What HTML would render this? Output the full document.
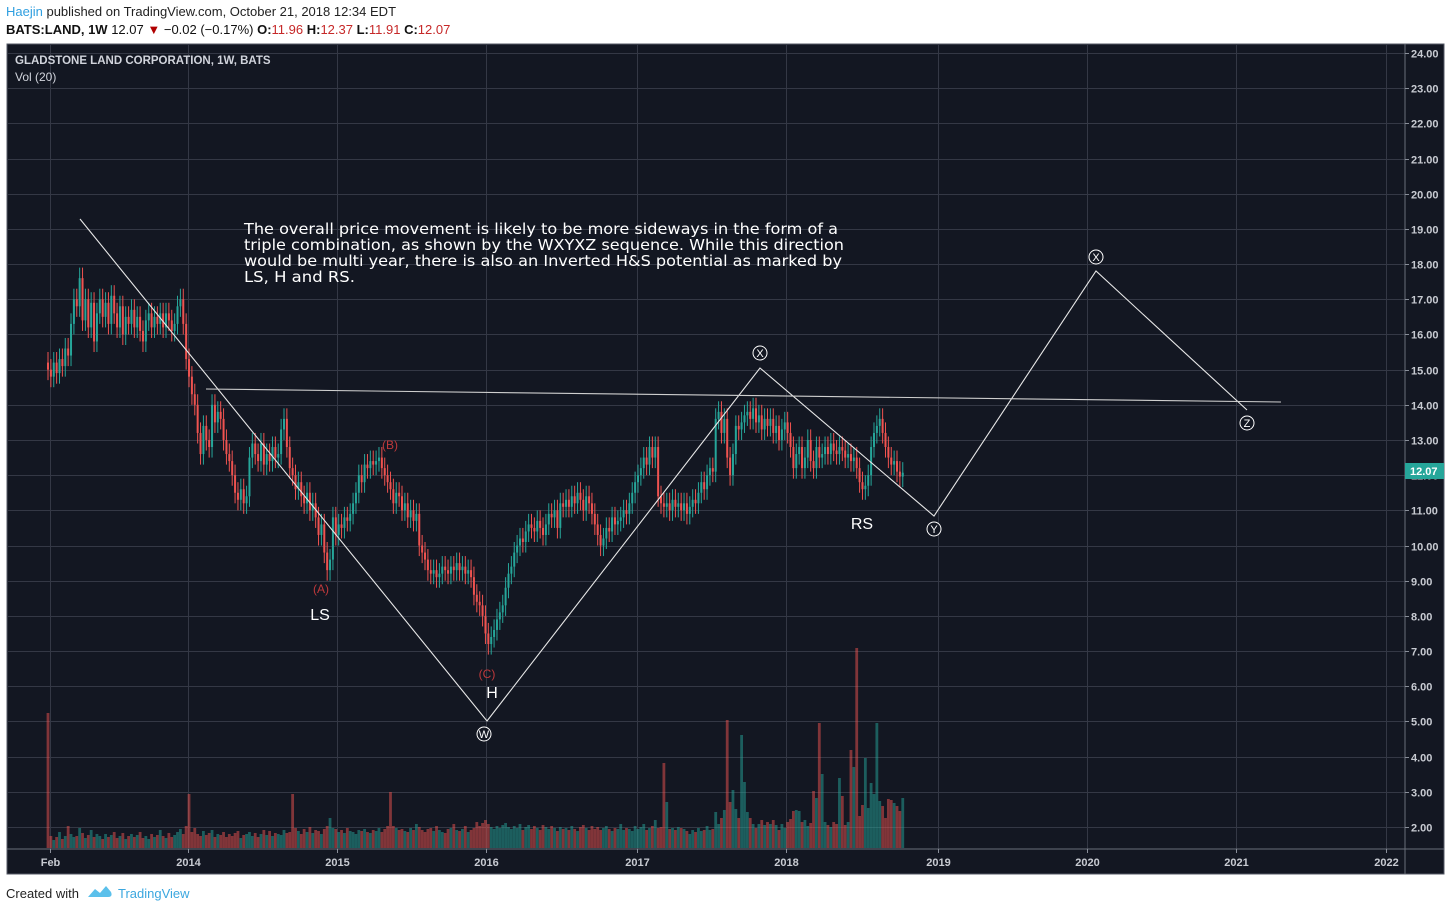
<!DOCTYPE html>
<html><head><meta charset="utf-8"><style>
html,body{margin:0;padding:0;background:#fff;}
svg{display:block;font-family:"Liberation Sans","DejaVu Sans",sans-serif;}
</style></head><body>
<svg id="chart" width="1451" height="911" viewBox="0 0 1451 911" xmlns="http://www.w3.org/2000/svg">
<rect x="0" y="0" width="1451" height="911" fill="#ffffff"/>
<g>
<text x="6" y="16" font-size="13"><tspan fill="#2f9fe0">Haejin</tspan><tspan fill="#222"> published on TradingView.com, October 21, 2018 12:34 EDT</tspan></text>
<text x="6" y="34" font-size="13" fill="#111"><tspan font-weight="bold">BATS:LAND, 1W</tspan><tspan> 12.07 </tspan><tspan fill="#b00000">▼</tspan><tspan> −0.02 (−0.17%) </tspan><tspan font-weight="bold">O:</tspan><tspan fill="#c62828">11.96 </tspan><tspan font-weight="bold">H:</tspan><tspan fill="#c62828">12.37 </tspan><tspan font-weight="bold">L:</tspan><tspan fill="#c62828">11.91 </tspan><tspan font-weight="bold">C:</tspan><tspan fill="#c62828">12.07</tspan></text>
</g>
<rect x="7" y="44" width="1437" height="830" fill="#131722" stroke="#555a66" stroke-width="1"/>
<g id="grid"></g>
<line x1="1405" y1="44" x2="1405" y2="874" stroke="#6a6f7a"/>
<line x1="7" y1="849" x2="1444" y2="849" stroke="#6a6f7a"/>
<g id="yaxis"></g>
<g id="xaxis"></g>
<g id="volume"></g>
<g id="candles"></g>
<text x="15" y="64" font-size="11.5" font-weight="bold" fill="#d1d4dc">GLADSTONE LAND CORPORATION, 1W, BATS</text>
<text x="15" y="81" font-size="12" fill="#d1d4dc">Vol (20)</text>
<g stroke="#e8e8e8" fill="none" stroke-width="1.1">
<polyline points="80,219 487,721 760,368 934,516 1096,271 1247,410"/>
<line x1="206" y1="389" x2="1281" y2="402" stroke="#cfcfcf"/>
</g>
<g font-size="11" fill="#fff" text-anchor="middle">
<g><circle cx="484" cy="734" r="7" fill="#131722" stroke="#fff"/><text x="484" y="738">W</text></g>
<g><circle cx="760" cy="353" r="7" fill="#131722" stroke="#fff"/><text x="760" y="357">X</text></g>
<g><circle cx="934" cy="529" r="7" fill="#131722" stroke="#fff"/><text x="934" y="533">Y</text></g>
<g><circle cx="1096" cy="257" r="7" fill="#131722" stroke="#fff"/><text x="1096" y="261">X</text></g>
<g><circle cx="1247" cy="423" r="7" fill="#131722" stroke="#fff"/><text x="1247" y="427">Z</text></g>
</g>
<g text-anchor="middle">
<text x="321" y="593" font-size="12" fill="#c0393b">(A)</text>
<text x="320" y="620" font-size="16" fill="#fff">LS</text>
<text x="390" y="449" font-size="12" fill="#c0393b">(B)</text>
<text x="487" y="678" font-size="12" fill="#c0393b">(C)</text>
<text x="492" y="698" font-size="16" fill="#fff">H</text>
<text x="862" y="529" font-size="16" fill="#fff">RS</text>
</g>
<g font-family="'DejaVu Sans',sans-serif" font-size="15.5" fill="#ffffff">
<text x="244" y="234" textLength="594" lengthAdjust="spacingAndGlyphs">The overall price movement is likely to be more sideways in the form of a</text>
<text x="244" y="250" textLength="600" lengthAdjust="spacingAndGlyphs">triple combination, as shown by the WXYXZ sequence. While this direction</text>
<text x="244" y="266" textLength="598" lengthAdjust="spacingAndGlyphs">would be multi year, there is also an Inverted H&amp;S potential as marked by</text>
<text x="244" y="282" textLength="111" lengthAdjust="spacingAndGlyphs">LS, H and RS.</text>
</g>
<g>
<rect x="1405" y="463" width="39" height="16" fill="#26a69a"/>
<text x="1410" y="475" font-size="11" font-weight="bold" fill="#fff">12.07</text>
</g>
<g>
<text x="6" y="898" font-size="13" fill="#222">Created with</text>
<g><path d="M88 897 L95 889 L100 893 L106 886 L111 892 Q113 897 108 897 Z" fill="#5bc0eb"/></g>
<text x="118" y="898" font-size="13" fill="#3ba7df">TradingView</text>
</g>
</svg>
<script>
const closes = [15.0,14.8,15.2,14.9,15.3,15.1,15.6,15.4,16.3,17.0,
16.8,17.6,16.4,17.0,16.2,16.9,15.8,16.6,17.0,16.5,
16.9,16.3,17.1,16.6,16.2,16.8,16.0,16.5,16.3,16.7,
16.2,16.5,16.1,15.8,16.4,16.6,16.2,16.5,16.3,16.6,
16.2,16.6,16.4,16.1,16.3,16.8,17.0,16.3,15.3,14.8,
14.3,14.0,13.2,12.6,13.4,13.0,12.8,14.0,13.5,13.8,
13.6,13.0,12.6,12.4,12.0,11.5,11.3,11.6,11.2,11.4,
12.5,12.9,12.6,12.4,12.9,12.3,12.6,12.4,12.8,12.5,
12.6,13.3,13.6,12.8,12.2,12.0,11.6,11.8,11.4,11.2,
11.5,11.0,11.2,10.8,10.3,10.6,9.8,9.3,9.6,10.8,
10.3,10.6,10.5,10.8,10.7,10.9,11.2,11.5,12.0,11.8,
12.3,12.2,12.4,12.3,12.4,12.5,12.2,12.0,11.8,11.6,
11.2,11.5,11.4,11.0,11.2,10.8,11.0,10.7,10.9,10.0,
9.8,9.6,9.3,9.2,9.3,9.1,9.2,9.4,9.3,9.2,
9.4,9.3,9.5,9.3,9.4,9.2,9.3,9.1,8.6,8.4,
8.3,8.0,7.5,7.2,7.4,7.6,7.9,8.1,8.3,8.8,
9.2,9.4,9.8,10.0,10.2,10.1,10.4,10.6,10.5,10.4,
10.7,10.5,10.3,10.6,10.9,10.8,11.0,10.5,11.2,11.1,
11.3,11.1,11.4,11.2,11.5,11.3,11.0,11.4,11.2,10.9,
10.6,10.3,10.0,10.2,10.5,10.4,10.8,10.6,10.7,10.8,
11.0,10.9,11.2,11.5,11.8,12.0,12.2,12.5,12.3,12.8,
12.5,12.8,11.4,11.2,11.1,11.2,11.0,11.3,11.1,11.2,
11.0,11.2,10.9,11.1,11.3,11.2,11.5,11.8,11.6,12.0,
12.2,12.1,13.6,13.8,13.2,13.6,12.5,12.0,12.6,13.4,
13.3,13.5,13.7,13.8,13.6,13.9,13.5,13.7,13.3,13.6,
13.4,13.6,13.2,13.4,13.0,13.3,13.5,13.2,12.8,12.2,
12.6,12.8,12.2,12.5,13.0,12.4,12.2,12.8,12.5,12.6,
12.8,12.6,12.9,12.7,12.6,12.8,12.7,12.5,12.6,12.4,
12.5,12.2,11.8,11.6,11.7,12.0,12.8,13.2,13.4,13.6,
13.2,12.8,12.5,12.3,12.4,12.1,11.96,12.07];
const volumes = [675,60,40,55,80,45,60,110,70,55,
60,100,75,50,65,90,55,70,60,45,
70,55,65,80,50,60,75,45,60,70,
55,65,80,50,60,45,70,55,65,90,
60,50,75,55,65,80,95,70,110,270,
80,100,70,60,85,65,75,90,55,70,
65,80,55,70,60,75,85,50,65,70,
80,60,75,55,70,90,65,85,60,75,
70,65,90,75,80,270,100,85,70,95,
80,105,75,90,85,70,95,110,150,100,
95,80,90,75,100,85,80,70,90,85,
95,80,75,90,85,100,80,95,110,280,
110,100,90,95,85,80,100,90,120,105,
90,80,95,100,85,110,90,80,75,95,
100,120,90,85,95,110,80,90,100,130,
110,125,140,120,105,95,110,100,115,125,
105,95,110,100,120,90,105,115,95,110,
100,90,115,105,95,110,100,85,105,95,
100,90,110,95,85,105,115,100,90,110,
95,105,90,100,110,95,85,100,95,120,
90,100,95,85,110,95,105,120,90,100,
110,140,100,105,425,230,95,100,90,105,
100,95,85,70,90,80,100,85,90,110,
90,95,180,120,150,190,640,230,290,195,
150,565,330,180,150,120,100,120,140,115,
130,120,140,115,90,120,100,130,145,185,
190,185,130,140,110,125,285,250,625,370,
130,115,105,130,120,350,260,115,130,490,
405,1000,160,215,450,200,325,270,625,235,
210,150,245,240,225,210,185,250];
const priceTicks = ["24.00","23.00","22.00","21.00","20.00","19.00","18.00","17.00","16.00","15.00","14.00","13.00","12.00","11.00","10.00","9.00","8.00","7.00","6.00","5.00","4.00","3.00","2.00"];
const timeLabels = ["Feb","2014","2015","2016","2017","2018","2019","2020","2021","2022"];
const timeLabelWeeks = [0.6,49,101,153,205.5,257.5,310.5,362.5,414.5,467];
const firstOpen = 15.2;

const NS = "http://www.w3.org/2000/svg";
function yScale(p){ return 53 + (24 - p) * 35.18; }
function xScale(i){ return 48 + i * 2.878; }
function vScale(v){ return 848 - v * 0.2; }
function mk(tag, attrs, parent){
  const el = document.createElementNS(NS, tag);
  for (const k in attrs) el.setAttribute(k, attrs[k]);
  parent.appendChild(el);
  return el;
}
const grid = document.getElementById('grid');
const yaxis = document.getElementById('yaxis');
const xaxis = document.getElementById('xaxis');
priceTicks.forEach(function(t){
  const y = Math.round(yScale(parseFloat(t))) + 0.5;
  const g = mk('line', {x1:7, x2:1405, y1:y, y2:y, stroke:'#343845', 'stroke-width':1}, grid);
  
  
  const tk = mk('line', {x1:1405, x2:1409, y1:y, y2:y, stroke:'#8a8f9a'}, yaxis);
  
  
  const tx = mk('text', {x:1411, y:y+4, 'font-size':11, 'font-weight':'bold', fill:'#c8cbd2'}, yaxis);
  tx.textContent = t;
  
  
});
timeLabels.forEach(function(t, k){
  const x = Math.round(48 + timeLabelWeeks[k] * 2.865) + 0.5;
  const g = mk('line', {x1:x, x2:x, y1:44, y2:849, stroke:'#343845', 'stroke-width':1}, grid);
  
  
  const tk = mk('line', {x1:x, x2:x, y1:849, y2:853, stroke:'#8a8f9a'}, xaxis);
  
  
  const tx = mk('text', {x:x, y:866, 'font-size':11, 'font-weight':'bold', fill:'#c8cbd2', 'text-anchor':'middle'}, xaxis);
  tx.textContent = t;
  
  
});
const vol = document.getElementById('volume');
const cg = document.getElementById('candles');
closes.forEach(function(c, i){
  const o = i === 0 ? firstOpen : closes[i-1];
  const up = c >= o;
  const x = xScale(i);
  const vb = mk('rect', {x:x-1.4, y:vScale(volumes[i]), width:2.8, height:848 - vScale(volumes[i]), fill: up ? 'rgba(38,166,154,0.5)' : 'rgba(239,83,80,0.5)'}, vol);
  
  
  const col = up ? '#26a69a' : '#ef5350';
  const hi = Math.max(o, c) + 0.3, lo = Math.min(o, c) - 0.3;
  const w = mk('line', {x1:x, x2:x, y1:yScale(hi), y2:yScale(lo), stroke:col, 'stroke-width':1}, cg);
  
  
  const top = yScale(Math.max(o, c)), bot = yScale(Math.min(o, c));
  const b = mk('rect', {x:x-1, y:top, width:2, height:Math.max(1, bot-top), fill:col}, cg);
  
  
});
</script>
</body></html>
